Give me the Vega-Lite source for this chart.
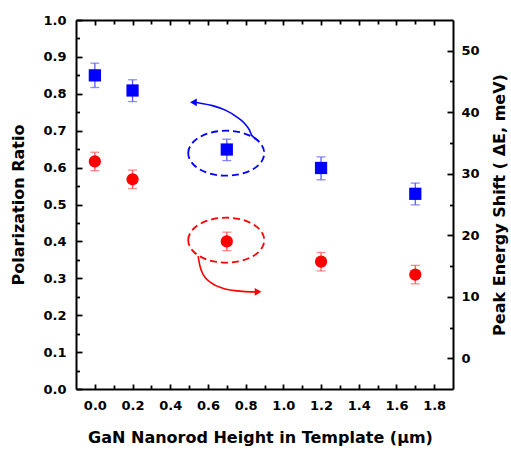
{
  "$schema": "https://vega.github.io/schema/vega-lite/v6.json",
  "width": 377,
  "height": 369,
  "autosize": {"type": "none"},
  "padding": {"left": 76, "top": 20, "right": 58, "bottom": 60},
  "background": "white",
  "config": {
    "view": {"stroke": null},
    "axis": {
      "grid": false,
      "domainColor": "black",
      "domainWidth": 2,
      "tickColor": "black",
      "tickWidth": 1.8,
      "labelFont": "DejaVu Sans",
      "labelFontWeight": "bold",
      "labelFontSize": 13,
      "labelColor": "black",
      "titleFont": "DejaVu Sans",
      "titleFontWeight": "bold",
      "titleFontSize": 16,
      "titleColor": "black"
    }
  },
  "datasets": {
    "pts": [
      {"h": 0.0, "pr": 0.850, "pr_lo": 0.817, "pr_hi": 0.883, "es": 32.0, "es_lo": 30.5, "es_hi": 33.5},
      {"h": 0.2, "pr": 0.809, "pr_lo": 0.779, "pr_hi": 0.838, "es": 29.1, "es_lo": 27.6, "es_hi": 30.6},
      {"h": 0.7, "pr": 0.649, "pr_lo": 0.619, "pr_hi": 0.677, "es": 19.0, "es_lo": 17.5, "es_hi": 20.5},
      {"h": 1.2, "pr": 0.599, "pr_lo": 0.567, "pr_hi": 0.629, "es": 15.7, "es_lo": 14.2, "es_hi": 17.2},
      {"h": 1.7, "pr": 0.529, "pr_lo": 0.499, "pr_hi": 0.558, "es": 13.6, "es_lo": 12.1, "es_hi": 15.1}
    ],
    "blueEllipse": [{"x": 0.697, "y": 0.639}],
    "blueArrow": [
      {"x": 0.872, "y": 0.671},
      {"x": 0.851, "y": 0.680},
      {"x": 0.833, "y": 0.687},
      {"x": 0.819, "y": 0.703},
      {"x": 0.792, "y": 0.721},
      {"x": 0.748, "y": 0.739},
      {"x": 0.695, "y": 0.755},
      {"x": 0.624, "y": 0.768},
      {"x": 0.554, "y": 0.775},
      {"x": 0.530, "y": 0.777}
    ],
    "blueHead": [{"x": 0.523, "y": 0.777}],
    "redEllipse": [{"x": 0.697, "y": 19.2}],
    "redArrow": [
      {"x": 0.548, "y": 16.6},
      {"x": 0.556, "y": 15.2},
      {"x": 0.575, "y": 13.6},
      {"x": 0.620, "y": 12.2},
      {"x": 0.686, "y": 11.3},
      {"x": 0.757, "y": 10.95},
      {"x": 0.828, "y": 10.8},
      {"x": 0.855, "y": 10.8}
    ],
    "redHead": [{"x": 0.866, "y": 10.8}]
  },
  "layer": [
    {
      "data": {"name": "pts"},
      "mark": {"type": "rule", "color": "#5a5aff", "strokeWidth": 1.3},
      "encoding": {
        "x": {
          "field": "h", "type": "quantitative",
          "scale": {"domain": [-0.1, 1.9], "nice": false, "zero": false},
          "axis": {
            "orient": "bottom",
            "values": [0, 0.1, 0.2, 0.3, 0.4, 0.5, 0.6, 0.7, 0.8, 0.9, 1.0, 1.1, 1.2, 1.3, 1.4, 1.5, 1.6, 1.7, 1.8],
            "labelExpr": "round(datum.value*10) % 2 == 0 ? format(datum.value, '.1f') : ''",
            "tickSize": -5,
            "tickDash": {"condition": {"test": "round(datum.value*10) % 2 == 0", "value": [20, 0]}, "value": [4, 30]},
            "labelPadding": 15,
            "labelFlush": false,
            "labelOverlap": false,
            "title": "GaN Nanorod Height in Template (µm)",
            "titleX": 184,
            "titlePadding": 17
          }
        },
        "y": {
          "field": "pr_lo", "type": "quantitative",
          "scale": {"domain": [0, 1], "nice": false, "zero": false},
          "axis": {
            "orient": "left",
            "values": [0, 0.05, 0.1, 0.15, 0.2, 0.25, 0.3, 0.35, 0.4, 0.45, 0.5, 0.55, 0.6, 0.65, 0.7, 0.75, 0.8, 0.85, 0.9, 0.95, 1.0],
            "labelExpr": "round(datum.value*100) % 10 == 0 ? format(datum.value, '.1f') : ''",
            "tickSize": -6,
            "tickDash": {"condition": {"test": "round(datum.value*100) % 10 == 0", "value": [20, 0]}, "value": [3.5, 30]},
            "labelPadding": 16,
            "labelFlush": false,
            "labelOverlap": false,
            "title": "Polarization Ratio",
            "titlePadding": 16
          }
        },
        "y2": {"field": "pr_hi"}
      }
    },
    {
      "data": {"name": "pts"},
      "mark": {"type": "rule", "color": "#ff5a5a", "strokeWidth": 1.3},
      "encoding": {
        "x": {
          "field": "h", "type": "quantitative",
          "scale": {"domain": [-0.1, 1.9], "nice": false, "zero": false},
          "axis": {
            "orient": "top",
            "values": [0, 0.1, 0.2, 0.3, 0.4, 0.5, 0.6, 0.7, 0.8, 0.9, 1.0, 1.1, 1.2, 1.3, 1.4, 1.5, 1.6, 1.7, 1.8],
            "labels": false,
            "tickSize": -5,
            "tickDash": {"condition": {"test": "round(datum.value*10) % 2 == 0", "value": [20, 0]}, "value": [4, 30]},
            "title": null
          }
        },
        "y": {
          "field": "es_lo", "type": "quantitative",
          "scale": {"domain": [-5, 55], "nice": false, "zero": false},
          "axis": {
            "orient": "right",
            "values": [0, 5, 10, 15, 20, 25, 30, 35, 40, 45, 50],
            "labelExpr": "round(datum.value) % 10 == 0 ? format(datum.value, 'd') : ''",
            "tickSize": -6,
            "tickDash": {"condition": {"test": "round(datum.value) % 10 == 0", "value": [20, 0]}, "value": [3.5, 30]},
            "labelPadding": 14,
            "labelFlush": false,
            "labelOverlap": false,
            "title": "Peak Energy Shift ( ΔE, meV)",
            "titleAngle": 270,
            "titlePadding": 28
          }
        },
        "y2": {"field": "es_hi"}
      }
    },
    {
      "data": {"name": "pts"},
      "mark": {"type": "tick", "orient": "horizontal", "size": 9, "thickness": 1.3, "color": "#5a5aff"},
      "encoding": {
        "x": {"field": "h", "type": "quantitative", "scale": {"domain": [-0.1, 1.9], "nice": false, "zero": false}, "axis": null},
        "y": {"field": "pr_lo", "type": "quantitative", "scale": {"domain": [0, 1], "nice": false, "zero": false}, "axis": null}
      }
    },
    {
      "data": {"name": "pts"},
      "mark": {"type": "tick", "orient": "horizontal", "size": 9, "thickness": 1.3, "color": "#5a5aff"},
      "encoding": {
        "x": {"field": "h", "type": "quantitative", "scale": {"domain": [-0.1, 1.9], "nice": false, "zero": false}, "axis": null},
        "y": {"field": "pr_hi", "type": "quantitative", "scale": {"domain": [0, 1], "nice": false, "zero": false}, "axis": null}
      }
    },
    {
      "data": {"name": "pts"},
      "mark": {"type": "tick", "orient": "horizontal", "size": 9, "thickness": 1.3, "color": "#ff5a5a"},
      "encoding": {
        "x": {"field": "h", "type": "quantitative", "scale": {"domain": [-0.1, 1.9], "nice": false, "zero": false}, "axis": null},
        "y": {"field": "es_lo", "type": "quantitative", "scale": {"domain": [-5, 55], "nice": false, "zero": false}, "axis": null}
      }
    },
    {
      "data": {"name": "pts"},
      "mark": {"type": "tick", "orient": "horizontal", "size": 9, "thickness": 1.3, "color": "#ff5a5a"},
      "encoding": {
        "x": {"field": "h", "type": "quantitative", "scale": {"domain": [-0.1, 1.9], "nice": false, "zero": false}, "axis": null},
        "y": {"field": "es_hi", "type": "quantitative", "scale": {"domain": [-5, 55], "nice": false, "zero": false}, "axis": null}
      }
    },
    {
      "data": {"name": "pts"},
      "mark": {"type": "point", "shape": "square", "filled": true, "color": "#0000ff", "size": 150, "opacity": 1},
      "encoding": {
        "x": {"field": "h", "type": "quantitative", "scale": {"domain": [-0.1, 1.9], "nice": false, "zero": false}, "axis": null},
        "y": {"field": "pr", "type": "quantitative", "scale": {"domain": [0, 1], "nice": false, "zero": false}, "axis": null}
      }
    },
    {
      "data": {"name": "pts"},
      "mark": {"type": "point", "shape": "circle", "filled": true, "color": "#ff0000", "size": 150, "opacity": 1},
      "encoding": {
        "x": {"field": "h", "type": "quantitative", "scale": {"domain": [-0.1, 1.9], "nice": false, "zero": false}, "axis": null},
        "y": {"field": "es", "type": "quantitative", "scale": {"domain": [-5, 55], "nice": false, "zero": false}, "axis": null}
      }
    },
    {
      "data": {"name": "blueEllipse"},
      "mark": {"type": "point", "shape": "M-1,0C-1,-0.327,-0.552,-0.592,0,-0.592C0.552,-0.592,1,-0.327,1,0C1,0.327,0.552,0.592,0,0.592C-0.552,0.592,-1,0.327,-1,0Z", "filled": false, "color": "#0000ff", "size": 5776, "strokeWidth": 1.8, "strokeDash": [7, 4], "opacity": 1},
      "encoding": {
        "x": {"field": "x", "type": "quantitative", "scale": {"domain": [-0.1, 1.9], "nice": false, "zero": false}, "axis": null},
        "y": {"field": "y", "type": "quantitative", "scale": {"domain": [0, 1], "nice": false, "zero": false}, "axis": null}
      }
    },
    {
      "data": {"name": "blueArrow"},
      "mark": {"type": "line", "color": "#0000ff", "strokeWidth": 1.6, "interpolate": "monotone"},
      "encoding": {
        "x": {"field": "x", "type": "quantitative", "scale": {"domain": [-0.1, 1.9], "nice": false, "zero": false}, "axis": null},
        "y": {"field": "y", "type": "quantitative", "scale": {"domain": [0, 1], "nice": false, "zero": false}, "axis": null}
      }
    },
    {
      "data": {"name": "blueHead"},
      "mark": {"type": "point", "shape": "triangle-left", "filled": true, "color": "#0000ff", "size": 60, "opacity": 1},
      "encoding": {
        "x": {"field": "x", "type": "quantitative", "scale": {"domain": [-0.1, 1.9], "nice": false, "zero": false}, "axis": null},
        "y": {"field": "y", "type": "quantitative", "scale": {"domain": [0, 1], "nice": false, "zero": false}, "axis": null}
      }
    },
    {
      "data": {"name": "redEllipse"},
      "mark": {"type": "point", "shape": "M-1,0C-1,-0.327,-0.552,-0.592,0,-0.592C0.552,-0.592,1,-0.327,1,0C1,0.327,0.552,0.592,0,0.592C-0.552,0.592,-1,0.327,-1,0Z", "filled": false, "color": "#ff0000", "size": 5776, "strokeWidth": 1.8, "strokeDash": [7, 4], "opacity": 1},
      "encoding": {
        "x": {"field": "x", "type": "quantitative", "scale": {"domain": [-0.1, 1.9], "nice": false, "zero": false}, "axis": null},
        "y": {"field": "y", "type": "quantitative", "scale": {"domain": [-5, 55], "nice": false, "zero": false}, "axis": null}
      }
    },
    {
      "data": {"name": "redArrow"},
      "mark": {"type": "line", "color": "#ff0000", "strokeWidth": 1.6, "interpolate": "monotone"},
      "encoding": {
        "x": {"field": "x", "type": "quantitative", "scale": {"domain": [-0.1, 1.9], "nice": false, "zero": false}, "axis": null},
        "y": {"field": "y", "type": "quantitative", "scale": {"domain": [-5, 55], "nice": false, "zero": false}, "axis": null}
      }
    },
    {
      "data": {"name": "redHead"},
      "mark": {"type": "point", "shape": "triangle-right", "filled": true, "color": "#ff0000", "size": 60, "opacity": 1},
      "encoding": {
        "x": {"field": "x", "type": "quantitative", "scale": {"domain": [-0.1, 1.9], "nice": false, "zero": false}, "axis": null},
        "y": {"field": "y", "type": "quantitative", "scale": {"domain": [-5, 55], "nice": false, "zero": false}, "axis": null}
      }
    }
  ],
  "resolve": {
    "scale": {"x": "independent", "y": "independent"},
    "axis": {"x": "independent", "y": "independent"}
  }
}
